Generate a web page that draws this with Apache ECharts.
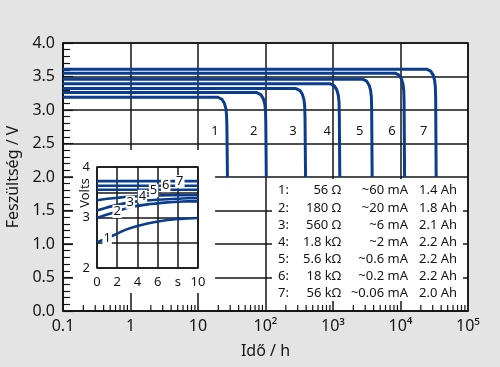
<!DOCTYPE html>
<html><head><meta charset="utf-8">
<script src="https://cdn.jsdelivr.net/npm/echarts@6/dist/echarts.min.js"></script>
<style>html,body{margin:0;padding:0;background:#e4e4e4}#c{width:500px;height:367px}</style>
</head><body><div id="c"></div>
<script>
// ---------- data ----------
const xTickValues = [0.1, 1, 10, 100, 1000, 10000, 100000];
const xTickLabels = ['0.1', '1', '10', '10²', '10³', '10⁴', '10⁵'];
const xMinorTicks = [0.2,0.3,0.4,0.5,0.6,0.7,0.8,0.9, 2,3,4,5,6,7,8,9, 20,30,40,50,60,70,80,90,
  200,300,400,500,600,700,800,900, 2000,3000,4000,5000,6000,7000,8000,9000,
  20000,30000,40000,50000,60000,70000,80000,90000];
const curveNames = ['1','2','3','4','5','6','7'];
const curve1 = [[0.1,3.19],[19.7,3.19],[22.6,3.16],[24.6,3.10],[25.9,3.02],[26.5,2.92],[26.8,2.75],[27.3,2.0]];
const curve2 = [[0.1,3.26],[74.3,3.26],[85.1,3.23],[92.7,3.17],[97.6,3.09],[100,2.99],[101,2.82],[102.7,2.0]];
const curve3 = [[0.1,3.32],[283,3.32],[325,3.29],[353,3.23],[372,3.15],[381,3.05],[385,2.88],[392,2.0]];
const curve4 = [[0.1,3.39],[913,3.39],[1045,3.36],[1138,3.30],[1198,3.22],[1228,3.12],[1240,2.95],[1261,2.0]];
const curve5 = [[0.1,3.46],[2753,3.46],[3153,3.43],[3433,3.37],[3613,3.29],[3703,3.19],[3740,3.02],[3804,2.0]];
const curve6 = [[0.1,3.55],[8317,3.55],[9526,3.52],[10373,3.46],[10916,3.38],[11187,3.28],[11300,3.11],[11492,2.0]];
const curve7 = [[0.1,3.61],[24435,3.61],[27988,3.58],[30478,3.52],[32071,3.44],[32868,3.34],[33200,3.17],[33764,2.0]];
const curveLabelAt = [[26.8,2.68],[101,2.68],[385,2.68],[1240,2.68],[3740,2.68],[11300,2.68],[33200,2.68]];

const insetXLabels = ['0','2','4','6','s','10'];
const insetCurve1 = [[0,2.51],[1,2.59],[2,2.68],[3,2.77],[4,2.83],[5,2.88],[6,2.92],[7,2.95],[8,2.97],[9,2.98],[10,2.99]];
const insetCurve2 = [[0,2.99],[1,3.06],[2,3.12],[3,3.19],[4,3.23],[5,3.26],[6,3.28],[7,3.30],[8,3.31],[9,3.32],[10,3.32]];
const insetCurve3 = [[0,3.14],[1,3.20],[2,3.25],[3,3.29],[4,3.32],[5,3.34],[6,3.35],[7,3.36],[8,3.37],[9,3.38],[10,3.38]];
const insetCurve4 = [[0,3.34],[1,3.37],[2,3.39],[3,3.41],[4,3.42],[5,3.43],[6,3.435],[7,3.44],[8,3.44],[9,3.44],[10,3.44]];
const insetCurve5 = [[0,3.55],[10,3.55]];
const insetCurve6 = [[0,3.63],[10,3.63]];
const insetCurve7 = [[0,3.72],[10,3.72]];
const insetLabelAt = [[1.0,2.59],[2.0,3.12],[3.3,3.30],[4.5,3.42],[5.6,3.53],[6.8,3.63],[8.2,3.71]];

const tableIdx = ['1:','2:','3:','4:','5:','6:','7:'];
const tableRes = ['56 Ω','180 Ω','560 Ω','1.8 kΩ','5.6 kΩ','18 kΩ','56 kΩ'];
const tableCur = ['~60 mA','~20 mA','~6 mA','~2 mA','~0.6 mA','~0.2 mA','~0.06 mA'];
const tableCap = ['1.4 Ah','1.8 Ah','2.1 Ah','2.2 Ah','2.2 Ah','2.2 Ah','2.0 Ah'];

// ---------- layout / style ----------
const BLUE = '#0b3d8f';
const INK = '#141414';
const FONT = 'Noto Sans';
const mainCurves = [curve1, curve2, curve3, curve4, curve5, curve6, curve7];
const insetCurves = [insetCurve1, insetCurve2, insetCurve3, insetCurve4, insetCurve5, insetCurve6, insetCurve7];
// white masks (in data units of main chart): [x1, x2, y1, y2]
const masks = [[0.1406, 17.9, 0.269, 2.403], [124.8, 84300, 0.149, 1.97]];

const chart = echarts.init(document.getElementById('c'), null, {renderer: 'canvas'});

const series = [];
mainCurves.forEach((d, i) => {
  series.push({
    type: 'line', xAxisIndex: 0, yAxisIndex: 0, data: d, symbol: 'none', z: 2,
    lineStyle: {color: BLUE, width: 3, cap: 'butt', join: 'round'}, silent: true, animation: false,
    markPoint: {
      symbol: 'circle', symbolSize: 1, itemStyle: {color: 'transparent'}, animation: false, z: 3,
      label: {show: true, position: 'inside', offset: [-12, 0], formatter: '{b}', color: INK, fontSize: 13, fontFamily: FONT},
      data: [{name: curveNames[i], coord: curveLabelAt[i]}]
    }
  });
});
series.push({
  type: 'custom', xAxisIndex: 0, yAxisIndex: 0, z: 1, silent: true, animation: false,
  encode: {x: [0, 1], y: [2, 3]}, data: masks,
  renderItem: (params, api) => {
    const a = api.coord([api.value(0), api.value(3)]);
    const b = api.coord([api.value(1), api.value(2)]);
    return {type: 'rect', shape: {x: a[0], y: a[1], width: b[0] - a[0], height: b[1] - a[1]}, style: {fill: '#fff'}};
  }
});
series.push({
  type: 'custom', xAxisIndex: 0, yAxisIndex: 0, z: 3, silent: true, animation: false, clip: false,
  encode: {x: 0, y: 1}, data: xMinorTicks.map(v => [v, 0]),
  renderItem: (params, api) => {
    const p = api.coord([api.value(0), 0]);
    return {type: 'line', shape: {x1: p[0], y1: p[1], x2: p[0], y2: p[1] - 6}, style: {stroke: INK, lineWidth: 1.2}};
  }
});
insetCurves.forEach((d, i) => {
  series.push({
    type: 'line', xAxisIndex: 1, yAxisIndex: 1, data: d, symbol: 'none', z: 5, smooth: true,
    lineStyle: {color: BLUE, width: 2.6}, silent: true, animation: false,
    markPoint: {
      symbol: 'circle', symbolSize: 1, itemStyle: {color: 'transparent'}, animation: false, z: 20,
      label: {show: true, position: 'inside', formatter: '{b}', color: INK, fontSize: 13, fontFamily: FONT,
        backgroundColor: '#fff', padding: [0, 1, 0, 1], lineHeight: 13},
      data: [{name: curveNames[i], coord: insetLabelAt[i]}]
    }
  });
});

const graphics = [{
  type: 'text', x: 85, y: 193, rotation: Math.PI / 2, z: 100,
  style: {text: 'Volts', font: '13px "' + FONT + '"', fill: INK, align: 'center', verticalAlign: 'middle'}
}];
tableIdx.forEach((t, i) => {
  const y = 190.7 + i * 17.1;
  const base = {font: '13px "' + FONT + '"', fill: INK, verticalAlign: 'middle'};
  graphics.push({type: 'text', x: 278, y, z: 100, style: Object.assign({text: t, align: 'left'}, base)});
  graphics.push({type: 'text', x: 341, y, z: 100, style: Object.assign({text: tableRes[i], align: 'right'}, base)});
  graphics.push({type: 'text', x: 408, y, z: 100, style: Object.assign({text: tableCur[i], align: 'right'}, base)});
  graphics.push({type: 'text', x: 419, y, z: 100, style: Object.assign({text: tableCap[i], align: 'left'}, base)});
});

const option = {
  animation: false,
  backgroundColor: '#e4e4e4',
  textStyle: {fontFamily: FONT},
  grid: [
    {left: 63, top: 43, width: 405, height: 268, show: true, backgroundColor: '#fff', borderColor: INK, borderWidth: 1.5, z: 0, outerBoundsMode: 'none'},
    {left: 97, top: 167, width: 101, height: 101, show: true, backgroundColor: '#fff', borderColor: INK, borderWidth: 1.5, z: 4, outerBoundsMode: 'none'}
  ],
  xAxis: [
    {type: 'log', logBase: 10, min: 0.1, max: 100000, splitNumber: 6, gridIndex: 0, z: 0,
      name: 'Idő / h', nameLocation: 'middle', nameGap: 32, nameTextStyle: {fontSize: 16, color: INK, fontFamily: FONT},
      axisLine: {show: true, lineStyle: {color: INK, width: 1.5}}, axisTick: {show: false},
      splitLine: {show: true, lineStyle: {color: INK, width: 1.5}},
      axisLabel: {fontSize: 16, color: INK, margin: 7, fontFamily: FONT, showMinLabel: true, showMaxLabel: true, hideOverlap: false,
        formatter: v => { const k = Math.round(Math.log10(v)) + 1; return xTickLabels[k] !== undefined ? xTickLabels[k] : ''; }}},
    {type: 'value', min: 0, max: 10, interval: 2, gridIndex: 1, z: 4,
      axisLine: {show: false}, axisTick: {show: false},
      splitLine: {show: true, lineStyle: {color: INK, width: 1.5}},
      axisLabel: {fontSize: 13, color: INK, margin: 8, fontFamily: FONT, showMinLabel: true, showMaxLabel: true,
        formatter: v => insetXLabels[Math.round(v / 2)]}}
  ],
  yAxis: [
    {type: 'value', min: 0, max: 4, interval: 0.5, gridIndex: 0, z: 0,
      name: 'Feszültség / V', nameLocation: 'middle', nameGap: 38, nameTextStyle: {fontSize: 16, color: INK, fontFamily: FONT},
      axisLine: {show: true, lineStyle: {color: INK, width: 1.5}},
      axisTick: {show: true, inside: true, length: 10, lineStyle: {color: INK, width: 1.2}},
      minorTick: {show: true, splitNumber: 5, length: 7, lineStyle: {color: INK, width: 1.2}},
      splitLine: {show: true, lineStyle: {color: INK, width: 1.5}},
      axisLabel: {fontSize: 16, color: INK, margin: 8, fontFamily: FONT, formatter: v => v.toFixed(1)}},
    {type: 'value', min: 2, max: 4, interval: 0.5, gridIndex: 1, z: 4,
      axisLine: {show: false}, axisTick: {show: false},
      splitLine: {show: true, lineStyle: {color: INK, width: 1.5}},
      axisLabel: {fontSize: 13, color: INK, margin: 7, fontFamily: FONT,
        formatter: v => (Math.abs(v - Math.round(v)) < 1e-6 ? String(Math.round(v)) : '')}}
  ],
  graphic: graphics,
  series: series
};
chart.setOption(option);
</script></body></html>
